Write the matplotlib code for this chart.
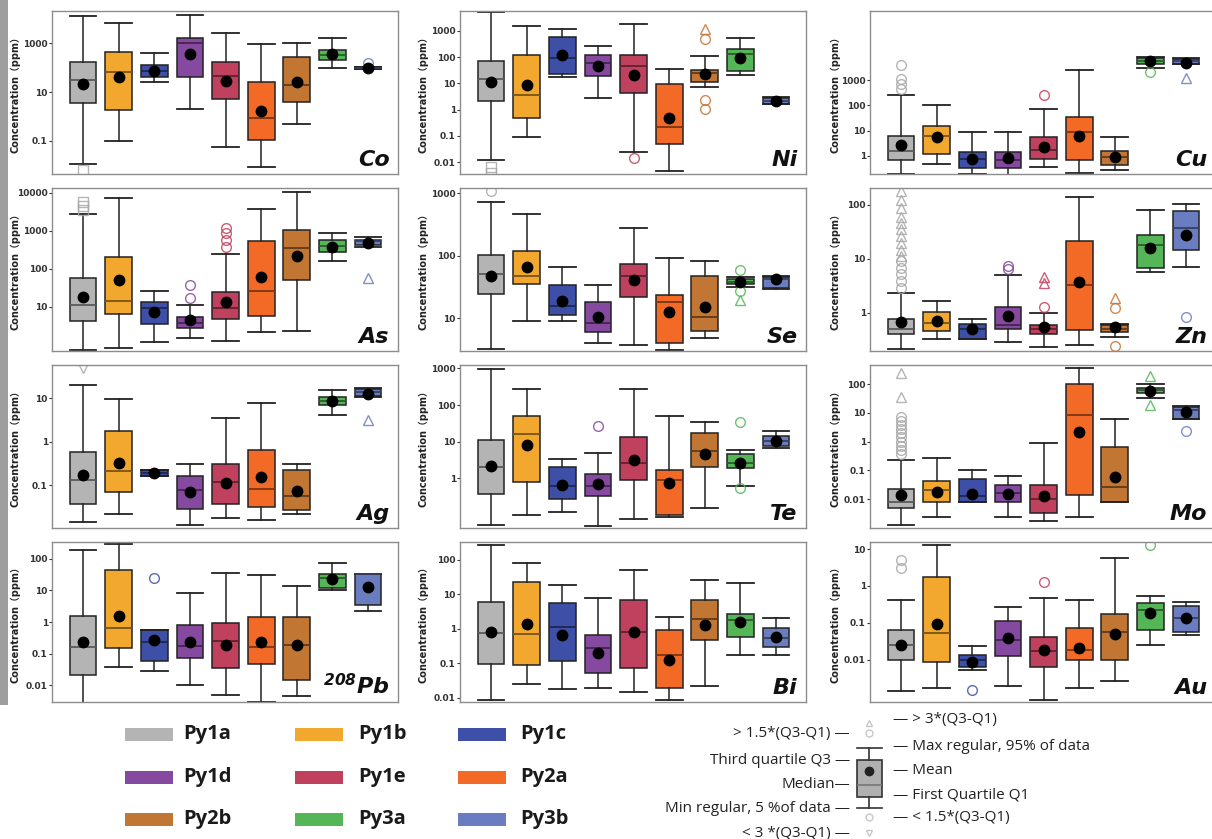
import numpy as np
import matplotlib.pyplot as plt
from matplotlib.colors import to_rgb
from matplotlib.patches import Rectangle

plt.rcParams['mathtext.fontset'] = 'custom'
plt.rcParams['mathtext.bf'] = 'DejaVu Sans:italic:bold'

# grupos de pirita y colores
groups = ['Py1a', 'Py1b', 'Py1c', 'Py1d', 'Py1e', 'Py2a', 'Py2b', 'Py3a', 'Py3b']
colors = ['#b4b4b4', '#f2a72e', '#3d4fa6', '#8549a0', '#c0415e',
          '#f26a25', '#c17634', '#55b657', '#6a7dc0']

# estadisticos por elemento (ppm): bigote inferior, Q1, mediana, Q3, bigote superior, media
co = dict(lo=[0.011, 0.1, 26, 2.1, 0.059, 0.009, 0.48, 98, 85],
          q1=[3.5, 1.9, 40, 42, 5, 0.11, 4, 205, 90],
          med=[31, 68, 74, 970, 47, 0.85, 20, 325, 100],
          q3=[170, 440, 125, 1550, 170, 25, 260, 520, 105],
          hi=[13000, 6700, 380, 14000, 2700, 880, 1030, 1650, 110],
          mean=[21, 40, 72, 345, 28, 1.6, 25, 345, 97])
co_out = [(0, 0.0066, 's'), (8, 160, 'o')]

ni = dict(lo=[0.0125, 0.09, 18, 2.7, 0.025, 0.0045, 7.2, 20, 1.6],
          q1=[2.1, 0.46, 22, 19, 4.3, 0.049, 11, 30, 1.7],
          med=[15, 3.7, 91, 59, 44, 0.22, 24, 135, 2.2],
          q3=[68, 124, 590, 117, 124, 9.1, 32, 210, 2.7],
          hi=[5100, 1560, 1150, 260, 1800, 34, 112, 550, 2.9],
          mean=[11, 8.3, 124, 44, 20, 0.49, 22, 91, 2.2])
ni_out = [(0, 0.0065, 's'), (0, 0.004, 's'), (4, 0.015, 'o'), (6, 1150, '^'),
          (6, 470, 'o'), (6, 2.3, 'o'), (6, 1.1, 'o')]

cu = dict(lo=[0.19, 0.46, 0.19, 0.17, 0.36, 0.21, 0.27, 3100, 4300],
          q1=[0.67, 1.17, 0.32, 0.31, 0.74, 0.67, 0.44, 4400, 4400],
          med=[1.5, 5.8, 0.74, 0.67, 1.7, 8.5, 0.91, 5900, 5750],
          q3=[6.3, 14.5, 1.44, 1.44, 5.4, 34, 1.5, 7800, 6800],
          hi=[250, 107, 8.5, 8.5, 74, 2500, 5.4, 8600, 7400],
          mean=[2.7, 5.4, 0.74, 0.81, 2.3, 6.3, 0.85, 5750, 5100])
cu_out = [(0, 4000, 'o'), (0, 1100, 'o'), (0, 740, 'o'), (0, 470, 'o'),
          (4, 270, 'o'), (7, 2150, 'o'), (8, 1230, '^')]

as_ = dict(lo=[0.71, 0.83, 1.17, 1.5, 1.23, 2.2, 2.3, 160, 370],
           q1=[4.3, 6.3, 3.4, 2.75, 4.6, 5.6, 51, 270, 430],
           med=[11, 14.5, 9.3, 3.8, 9.1, 26, 360, 390, 525],
           q3=[56, 210, 13, 5.4, 24, 550, 1030, 560, 575],
           hi=[2800, 7400, 26, 11, 245, 3800, 10400, 870, 680],
           mean=[18, 51, 7.1, 4.4, 13.5, 60, 220, 370, 480])
as_out = [(0, 5600, 's'), (0, 4400, 's'), (0, 3500, 's'), (3, 37, 'o'), (3, 16.6, 'o'),
          (4, 1180, 'o'), (4, 870, 'o'), (4, 580, 'o'), (4, 385, 'o'), (8, 56, '^')]

se = dict(lo=[3.2, 9.1, 9.1, 4.1, 3.8, 3.1, 4.9, 32, 29],
          q1=[24.5, 36, 11.5, 6.1, 22, 4.1, 6.4, 35, 31],
          med=[51, 48, 16, 8.5, 48, 18.6, 10.5, 38, 43],
          q3=[103, 120, 34, 18, 73, 24, 48, 42, 46],
          hi=[710, 460, 65, 34, 280, 91, 83, 46, 48],
          mean=[48, 65, 19, 10.6, 41, 12.6, 15, 38, 42])
se_out = [(0, 1060, 'o'), (7, 59, 'o'), (7, 27, 'o'), (7, 20, '^')]

zn = dict(lo=[0.21, 0.33, 0.33, 0.29, 0.23, 0.25, 0.35, 5.7, 6.9],
          q1=[0.40, 0.46, 0.33, 0.49, 0.41, 0.47, 0.43, 6.8, 14.8],
          med=[0.49, 0.65, 0.49, 0.6, 0.5, 3.3, 0.49, 18, 37],
          q3=[0.78, 1.02, 0.63, 1.29, 0.6, 21, 0.6, 28, 75],
          hi=[2.35, 1.66, 0.76, 5, 1.0, 142, 0.63, 79, 103],
          mean=[0.67, 0.71, 0.5, 0.85, 0.55, 3.7, 0.55, 15.8, 27])
zn_out = ([(0, v, '^') for v in [177, 124, 87, 60, 46, 35, 26, 19.5, 14.8, 11.2]]
          + [(0, v, 'o') for v in [8.9, 6.7, 5.1, 3.8, 2.9]]
          + [(3, 7.4, 'o'), (3, 6.5, 'o'), (4, 1.29, 'o'), (4, 4.5, '^'), (4, 3.6, '^'),
             (6, 1.9, '^'), (6, 1.23, 'o'), (6, 0.24, 'o'), (8, 0.83, 'o')])

ag = dict(lo=[0.0145, 0.022, 0.16, 0.012, 0.018, 0.016, 0.022, 4, 10.5],
          q1=[0.037, 0.069, 0.16, 0.028, 0.037, 0.032, 0.027, 6.8, 11],
          med=[0.13, 0.21, 0.19, 0.076, 0.12, 0.083, 0.056, 8.4, 14],
          q3=[0.58, 1.78, 0.22, 0.16, 0.3, 0.66, 0.23, 10.4, 16],
          hi=[20, 9.6, 0.22, 0.31, 3.5, 7.7, 0.31, 15, 17],
          mean=[0.17, 0.32, 0.19, 0.069, 0.11, 0.155, 0.073, 8.7, 12.6])
ag_out = [(0, 49, 'v'), (8, 3.1, '^')]

te = dict(lo=[0.055, 0.10, 0.12, 0.051, 0.079, 0.091, 0.155, 0.62, 6.9],
          q1=[0.38, 0.81, 0.27, 0.34, 0.93, 0.10, 2.0, 1.95, 7.5],
          med=[2.0, 15.8, 0.63, 0.63, 2.6, 0.93, 5.6, 2.6, 10.4],
          q3=[11, 51, 2.0, 1.31, 13.5, 1.74, 17, 4.5, 14],
          hi=[940, 280, 3.3, 4.9, 280, 51, 34, 6, 19.5],
          mean=[2.2, 7.9, 0.66, 0.72, 3.2, 0.76, 4.5, 2.6, 10.4])
te_out = [(3, 26, 'o'), (7, 34, 'o'), (7, 0.54, 'o')]

mo = dict(lo=[0.0013, 0.0024, 0.0077, 0.0024, 0.0017, 0.0024, 0.0081, 33, 6.2],
          q1=[0.0048, 0.0077, 0.0077, 0.0081, 0.0033, 0.0138, 0.0081, 48, 6.3],
          med=[0.0083, 0.021, 0.013, 0.017, 0.0105, 8.1, 0.027, 62, 12.3],
          q3=[0.022, 0.043, 0.051, 0.03, 0.032, 100, 0.65, 73, 16],
          hi=[0.23, 0.28, 0.1, 0.063, 0.87, 355, 6, 100, 17],
          mean=[0.0137, 0.018, 0.015, 0.015, 0.0129, 2.2, 0.06, 59, 10.7])
mo_out = ([(0, 250, '^'), (0, 35, '^')]
          + [(0, v, 'o') for v in [7.3, 5.1, 3.7, 2.7, 2.0, 1.4, 1.0, 0.7, 0.5, 0.37]]
          + [(7, 195, '^'), (7, 18, '^'), (8, 2.4, 'o')])

pb = dict(lo=[0.0028, 0.038, 0.028, 0.01, 0.0048, 0.003, 0.0046, 10.5, 2.3],
          q1=[0.021, 0.15, 0.059, 0.072, 0.034, 0.046, 0.0145, 11.8, 3.5],
          med=[0.16, 0.66, 0.23, 0.17, 0.25, 0.16, 0.19, 25, 32],
          q3=[1.55, 43, 0.55, 0.78, 0.95, 1.45, 1.45, 32, 34],
          hi=[190, 300, 0.55, 8.5, 36, 31, 13.4, 73, 34],
          mean=[0.23, 1.6, 0.26, 0.23, 0.19, 0.23, 0.19, 23, 12.9])
pb_out = [(2, 25, 'o')]

bi = dict(lo=[0.0087, 0.026, 0.018, 0.019, 0.015, 0.0087, 0.022, 0.18, 0.18],
          q1=[0.098, 0.091, 0.12, 0.052, 0.074, 0.019, 0.48, 0.59, 0.3],
          med=[0.76, 0.72, 1.15, 0.28, 0.8, 0.18, 1.95, 1.8, 0.55],
          q3=[6.0, 23, 5.6, 0.67, 6.9, 0.93, 6.9, 2.7, 1.07],
          hi=[270, 82, 19, 7.9, 51, 2.2, 26, 21, 2.1],
          mean=[0.8, 1.38, 0.67, 0.2, 0.8, 0.126, 1.3, 1.6, 0.59])
bi_out = []

au = dict(lo=[0.0014, 0.0017, 0.0054, 0.002, 0.0008, 0.0017, 0.0026, 0.026, 0.048],
          q1=[0.01, 0.0089, 0.0065, 0.013, 0.0065, 0.01, 0.01, 0.065, 0.057],
          med=[0.026, 0.054, 0.01, 0.035, 0.017, 0.019, 0.057, 0.22, 0.14],
          q3=[0.065, 1.74, 0.0138, 0.11, 0.042, 0.073, 0.17, 0.35, 0.29],
          hi=[0.42, 13, 0.024, 0.27, 0.48, 0.42, 5.7, 0.54, 0.37],
          mean=[0.026, 0.093, 0.0089, 0.039, 0.019, 0.021, 0.05, 0.19, 0.14])
au_out = [(0, 5.0, 'o'), (0, 3.1, 'o'), (2, 0.0015, 'o'), (4, 1.3, 'o'), (7, 13, 'o')]

elements = ['Co', 'Ni', 'Cu', 'As', 'Se', 'Zn', 'Ag', 'Te', 'Mo', 'Pb', 'Bi', 'Au']
data = [co, ni, cu, as_, se, zn, ag, te, mo, pb, bi, au]
outliers = [co_out, ni_out, cu_out, as_out, se_out, zn_out, ag_out, te_out,
            mo_out, pb_out, bi_out, au_out]
ticks = [[0.1, 10, 1000], [0.01, 0.1, 1, 10, 100, 1000], [1, 10, 100, 1000],
         [10, 100, 1000, 10000], [10, 100, 1000], [1, 10, 100],
         [0.1, 1, 10], [1, 10, 100, 1000], [0.01, 0.1, 1, 10, 100],
         [0.01, 0.1, 1, 10, 100], [0.01, 0.1, 1, 10, 100], [0.01, 0.1, 1, 10]]

# limites del eje y (log10)
ylims = [(-2.35, 4.31), (-2.45, 3.75), (-0.73, 5.76), (-0.17, 4.13),
         (0.48, 3.08), (-0.71, 2.31), (-1.98, 1.76), (-1.35, 3.09),
         (-3.0, 2.66), (-2.53, 2.53), (-2.12, 2.52), (-3.14, 1.19)]

W, H = 1212, 839
fig = plt.figure(figsize=(W / 100, H / 100), dpi=100)

cols_px = [52, 460, 870]
rows_px = [(11, 174), (188, 351), (365, 528), (542, 702)]
ylab_x = [15, 423, 835]
pos = np.arange(1, 10)

for k, el in enumerate(elements):
    r, c = divmod(k, 3)
    yt, yb = rows_px[r]
    ax = fig.add_axes([cols_px[c] / W, 1 - yb / H, 346 / W, (yb - yt) / H])
    d = data[k]
    stats = []
    for i in range(9):
        stats.append(dict(whislo=d['lo'][i], q1=d['q1'][i], med=d['med'][i],
                          q3=d['q3'][i], whishi=d['hi'][i], mean=d['mean'][i],
                          fliers=[], label=groups[i]))
    bp = ax.bxp(stats, positions=pos, widths=0.75, capwidths=0.75,
                patch_artist=True, showmeans=True, showfliers=False,
                boxprops=dict(edgecolor='#222222', linewidth=1.1),
                whiskerprops=dict(color='#222222', linewidth=1.1),
                capprops=dict(color='#222222', linewidth=1.3),
                meanprops=dict(marker='o', markerfacecolor='black',
                               markeredgecolor='black', markersize=7.5),
                medianprops=dict(linewidth=1.3))
    for i, box in enumerate(bp['boxes']):
        box.set_facecolor(colors[i])
        bp['medians'][i].set_color(np.array(to_rgb(colors[i])) * 0.5)
    # valores atipicos
    for g, v, m in outliers[k]:
        oc = '#a8a8a8' if g == 0 else colors[g]
        ax.plot(pos[g], v, marker=m, linestyle='none', markersize=7,
                markerfacecolor='none', markeredgecolor=oc, markeredgewidth=1.0,
                alpha=0.85)
    ax.set_yscale('log')
    ax.set_ylim(10 ** ylims[k][0], 10 ** ylims[k][1])
    ax.set_xlim(0.13, 9.84)
    ax.set_xticks([])
    ax.set_yticks(ticks[k], ['%g' % t for t in ticks[k]])
    ax.yaxis.set_minor_locator(plt.NullLocator())
    ax.tick_params(axis='y', length=2, pad=1, labelsize=6.5, colors='#333333')
    for lab in ax.get_yticklabels():
        lab.set_fontweight('bold')
    for s in ax.spines.values():
        s.set_color('#8c8c8c')
        s.set_linewidth(1.0)
    name = r'$\mathbf{{}^{208}Pb}$' if el == 'Pb' else el
    ax.text(0.975, 0.05, name, transform=ax.transAxes, ha='right', va='baseline',
            fontsize=16, fontweight='bold', fontstyle='italic', color='#111111')
    fig.text(ylab_x[c] / W, 1 - (yt + yb) / 2 / H, 'Concentration（ppm）',
             rotation=90, ha='center', va='center', fontsize=7, fontweight='bold',
             family=['DejaVu Sans', 'Noto Sans CJK SC'], color='#222222')

# capa para la leyenda en pixeles
lg = fig.add_axes([0, 0, 1, 1])
lg.set_xlim(0, W)
lg.set_ylim(H, 0)
lg.axis('off')
lg.add_patch(Rectangle((0, 0), 8, 705, color='#9e9e9e', lw=0))

leg_x = [125, 295, 458]
leg_tx = [183, 358, 520]
leg_y = [734, 777, 819]
for i, g in enumerate(groups):
    r, c = divmod(i, 3)
    lg.add_patch(Rectangle((leg_x[c], leg_y[r] - 6.5), 48, 13, facecolor=colors[i],
                           edgecolor='none'))
    lg.text(leg_tx[c], leg_y[r], g, ha='left', va='center', fontsize=14.5,
            fontweight='bold', family='Open Sans', color='#1a1a1a')

# esquema de caja
sch = [dict(whislo=808, q1=797, med=785, q3=760, whishi=748, mean=771, fliers=[])]
sb = lg.bxp(sch, positions=[869], widths=25, capwidths=25, patch_artist=True,
            showmeans=True, showfliers=False,
            boxprops=dict(facecolor='#b0b0b0', edgecolor='#333333', linewidth=1.2),
            whiskerprops=dict(color='#333333', linewidth=1.2),
            capprops=dict(color='#333333', linewidth=1.2),
            medianprops=dict(color='#777777', linewidth=1.2),
            meanprops=dict(marker='o', markerfacecolor='#222222',
                           markeredgecolor='#222222', markersize=6))
for m, yy in [('^', 723), ('o', 733), ('o', 817), ('v', 833)]:
    lg.plot(869, yy, marker=m, markersize=5, markerfacecolor='none',
            markeredgecolor='#c8c8c8', linestyle='none')

left_txt = ['> 1.5*(Q3-Q1) —', 'Third quartile Q3 —', 'Median—',
            'Min regular, 5 %of data —', '< 3 *(Q3-Q1) —']
left_y = [733, 760, 785, 808, 833]
right_txt = ['— > 3*(Q3-Q1)', '— Max regular, 95% of data', '— Mean',
             '— First Quartile Q1', '— < 1.5*(Q3-Q1)']
right_y = [720, 746, 771, 795, 818]
for t, yy in zip(left_txt, left_y):
    lg.text(850, yy, t, ha='right', va='center', fontsize=11, family='Open Sans',
            color='#222222')
for t, yy in zip(right_txt, right_y):
    lg.text(893, yy, t, ha='left', va='center', fontsize=11, family='Open Sans',
            color='#222222')

fig.savefig('out.png', dpi=100)
